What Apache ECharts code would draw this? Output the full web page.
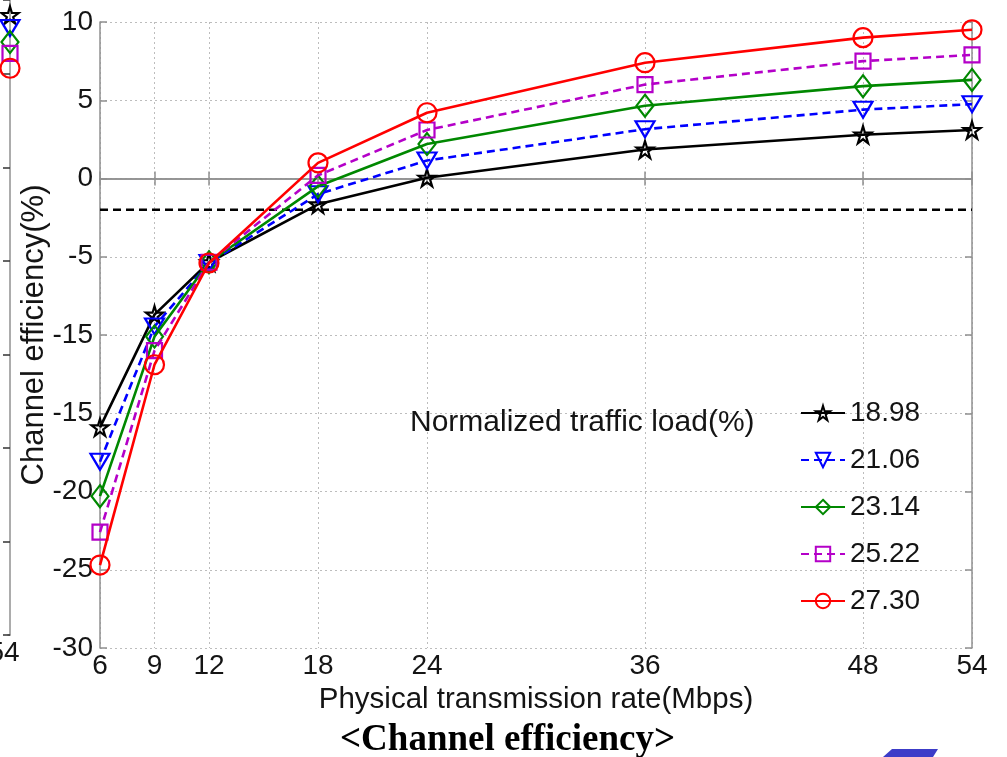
<!DOCTYPE html>
<html>
<head>
<meta charset="utf-8">
<script src="https://cdn.jsdelivr.net/npm/echarts@6/dist/echarts.min.js"></script>
<style>
  html, body { margin: 0; padding: 0; background: #ffffff; }
  #chart { width: 1007px; height: 757px; }
</style>
</head>
<body>
<div id="chart"></div>
<script>
// Physical transmission rates (Mbps) where the curves are sampled and ticks are drawn
const rates = [6, 9, 12, 18, 24, 36, 48, 54];

// Channel efficiency (%) for each normalized traffic load (%)
const loadNames = ['18.98', '21.06', '23.14', '25.22', '27.30'];
const eff1898 = [-15.9, -8.7, -5.35, -1.65, 0.05, 1.85, 2.8, 3.1];
const eff2106 = [-18.1, -9.45, -5.4, -1.0, 1.15, 3.15, 4.4, 4.75];
const eff2314 = [-20.3, -10.1, -5.35, -0.5, 2.2, 4.65, 5.9, 6.3];
const eff2522 = [-22.6, -11.0, -5.35, 0.2, 3.1, 6.0, 7.5, 7.9];
const eff2730 = [-24.7, -11.9, -5.4, 1.0, 4.2, 7.4, 9.0, 9.5];

// Horizontal reference level (%)
const referenceLevel = -2;

// Y tick values and the labels printed beside them
const yTickValues = [10, 5, 0, -5, -10, -15, -20, -25, -30];
const yTickLabels = ['10', '5', '0', '-5', '-15', '-15', '-20', '-25', '-30'];

// Last points of the neighbouring panel on the left edge (its own units)
const sideValues = [6.63, 6.49, 6.34, 6.22, 6.06];

// Integer slots of the rate axis (6 .. 54 Mbps)
const rateSlots = [];
for (let r = rates[0]; r <= rates[rates.length - 1]; r++) rateSlots.push(String(r));

const isRateTick = (idx, val) => rates.indexOf(Number(val)) >= 0;

const FONT = '"Liberation Sans", Arial, sans-serif';
const AXIS_GRAY = '#909090';
const TEXT = '#141414';

const STAR = 'path://M50,0 L61,35 L98,35 L68,57 L79,91 L50,70 L21,91 L32,57 L2,35 L39,35 Z';

const styles = [
  { color: '#000000', type: 'solid', symbol: STAR, size: 17, rotate: 0 },
  { color: '#0000ff', type: [8, 5], symbol: 'triangle', size: [19, 16], rotate: 180 },
  { color: '#008800', type: 'solid', symbol: 'diamond', size: [17, 22], rotate: 0 },
  { color: '#b400c8', type: [8, 5], symbol: 'rect', size: 15, rotate: 0 },
  { color: '#ff0000', type: 'solid', symbol: 'circle', size: 19, rotate: 0 }
];
const effSets = [eff1898, eff2106, eff2314, eff2522, eff2730];

const mainSeries = effSets.map((vals, k) => ({
  name: loadNames[k],
  type: 'line',
  xAxisIndex: 0,
  yAxisIndex: 0,
  clip: false,
  data: rates.map((r, i) => [String(r), vals[i]]),
  symbol: styles[k].symbol,
  symbolSize: styles[k].size,
  symbolRotate: styles[k].rotate,
  showAllSymbol: true,
  lineStyle: { color: styles[k].color, width: 2.6, type: styles[k].type },
  itemStyle: { color: 'rgba(0,0,0,0)', borderColor: styles[k].color, borderWidth: 2.2 },
  emphasis: { disabled: true },
  z: 3 + k
}));

const refSeries = {
  name: 'reference',
  type: 'line',
  xAxisIndex: 0,
  yAxisIndex: 0,
  data: [[String(rates[0]), referenceLevel], [String(rates[rates.length - 1]), referenceLevel]],
  symbol: 'none',
  lineStyle: { color: '#000000', width: 2.6, type: [8, 5] },
  emphasis: { disabled: true },
  z: 2
};

const sideSeries = sideValues.map((v, k) => ({
  name: 'side-' + loadNames[k],
  type: 'line',
  xAxisIndex: 2,
  yAxisIndex: 2,
  clip: false,
  data: [[String(rates[rates.length - 1]), v]],
  symbol: styles[k].symbol,
  symbolSize: styles[k].size,
  symbolRotate: styles[k].rotate,
  lineStyle: { color: styles[k].color, width: 2 },
  itemStyle: { color: 'rgba(0,0,0,0)', borderColor: styles[k].color, borderWidth: 2.2 },
  emphasis: { disabled: true }
}));

const boxLine = { show: true, lineStyle: { color: AXIS_GRAY, width: 1.5 } };
const inTick = { show: true, inside: true, length: 7, lineStyle: { color: AXIS_GRAY, width: 1.5 } };
const dotted = { show: true, lineStyle: { color: '#bdbdbd', width: 1, type: [2, 3] } };

const option = {
  animation: false,
  backgroundColor: '#ffffff',
  title: [
    {
      text: 'Normalized traffic load(%)',
      left: 410, top: 408,
      padding: 0,
      textStyle: { fontFamily: FONT, fontSize: 30, fontWeight: 'normal', color: TEXT }
    },
    {
      text: '<Channel efficiency>',
      left: 340, top: 722,
      padding: 0,
      textStyle: { fontFamily: '"Liberation Serif", "Times New Roman", serif', fontSize: 37, fontWeight: 'bold', color: '#000000' }
    }
  ],
  legend: {
    data: loadNames,
    orient: 'vertical',
    left: 800,
    top: 399,
    padding: 0,
    itemWidth: 44,
    itemHeight: 18,
    itemGap: 19,
    selectedMode: false,
    textStyle: { fontFamily: FONT, fontSize: 28, color: TEXT }
  },
  grid: [
    { left: 100, right: 35, top: 22, bottom: 109 },
    { left: 0, width: 8, top: 0, bottom: 122 }
  ],
  xAxis: [
    {
      gridIndex: 0,
      type: 'category',
      data: rateSlots,
      boundaryGap: false,
      position: 'bottom',
      name: 'Physical transmission rate(Mbps)',
      nameLocation: 'middle',
      nameGap: 35,
      nameTextStyle: { fontFamily: FONT, fontSize: 29.5, color: TEXT },
      axisLine: boxLine,
      axisTick: Object.assign({}, inTick, { interval: isRateTick }),
      axisLabel: { interval: isRateTick, fontFamily: FONT, fontSize: 28, color: TEXT, margin: 4 },
      splitLine: Object.assign({}, dotted, { interval: isRateTick })
    },
    {
      gridIndex: 0,
      type: 'category',
      data: rateSlots,
      boundaryGap: false,
      position: 'top',
      axisLine: boxLine,
      axisTick: Object.assign({}, inTick, { interval: isRateTick }),
      axisLabel: { show: false },
      splitLine: { show: false }
    },
    {
      gridIndex: 1,
      type: 'category',
      data: rateSlots,
      boundaryGap: false,
      position: 'bottom',
      axisLine: boxLine,
      axisTick: { show: false },
      axisLabel: {
        interval: (idx, val) => Number(val) === rates[rates.length - 1],
        fontFamily: FONT, fontSize: 28, color: TEXT, margin: 4,
        padding: [0, 12, 0, 0]
      },
      splitLine: { show: false }
    }
  ],
  yAxis: [
    {
      gridIndex: 0,
      type: 'value',
      min: -30, max: 10, interval: 5,
      position: 'left',
      name: 'Channel efficiency(%)',
      nameLocation: 'middle',
      nameGap: 50,
      nameMoveOverlap: false,
      nameTextStyle: { fontFamily: FONT, fontSize: 31, color: TEXT },
      axisLine: boxLine,
      axisTick: inTick,
      axisLabel: {
        fontFamily: FONT, fontSize: 28, color: TEXT, margin: 7,
        formatter: (v) => {
          const i = yTickValues.indexOf(v);
          return i >= 0 ? yTickLabels[i] : '';
        }
      },
      splitLine: dotted
    },
    {
      gridIndex: 0,
      type: 'value',
      min: -30, max: 10, interval: 5,
      position: 'right',
      axisLine: boxLine,
      axisTick: inTick,
      axisLabel: { show: false },
      splitLine: { show: false }
    },
    {
      gridIndex: 1,
      type: 'value',
      min: 0, max: 6.79, interval: 1,
      position: 'right',
      axisLine: boxLine,
      axisTick: { show: true, inside: true, length: 7, lineStyle: { color: '#333333', width: 1.5 } },
      axisLabel: { show: false },
      splitLine: { show: false }
    }
  ],
  graphic: [
    {
      type: 'polygon',
      shape: { points: [[892, 749], [938, 749], [933, 757], [883, 757]] },
      style: { fill: '#3c3cc8' },
      silent: true
    }
  ],
  series: [refSeries].concat(mainSeries, sideSeries)
};

const chart = echarts.init(document.getElementById('chart'), null, { renderer: 'canvas' });
chart.setOption(option);
</script>
</body>
</html>
